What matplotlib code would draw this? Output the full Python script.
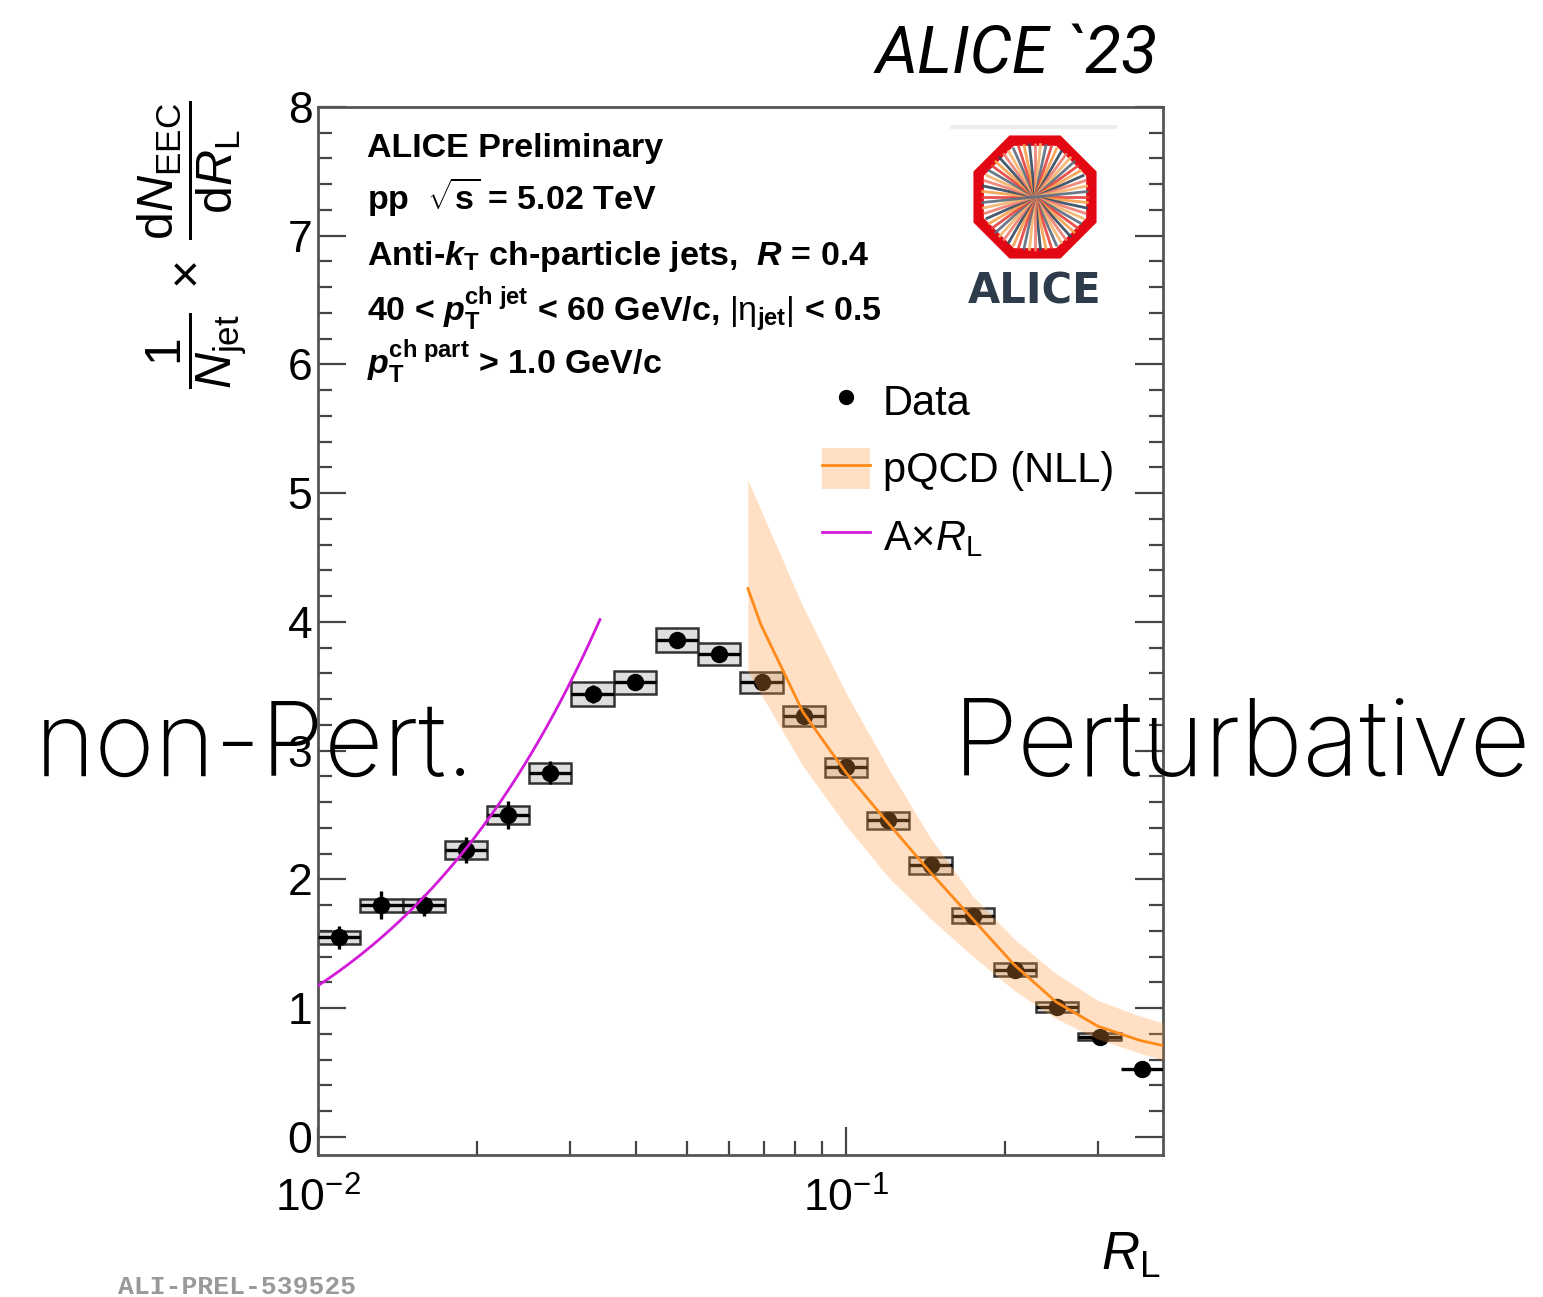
import numpy as np
import matplotlib
matplotlib.use("Agg")
import matplotlib.pyplot as plt
from matplotlib.patches import Rectangle, RegularPolygon, Patch
from matplotlib.lines import Line2D
from matplotlib import font_manager as fm

plt.rcParams['font.family'] = ['Liberation Sans', 'DejaVu Sans']
plt.rcParams['mathtext.fontset'] = 'custom'
plt.rcParams['mathtext.rm'] = 'Liberation Sans'
plt.rcParams['mathtext.it'] = 'Liberation Sans:italic'
plt.rcParams['mathtext.bf'] = 'Liberation Sans:bold'
plt.rcParams['mathtext.bfit'] = 'Liberation Sans:italic:bold'

# ---- data: EEC distribution, pp 5.02 TeV, 40-60 GeV/c charged jets ----
bin_edges = [0.01000, 0.01202, 0.01446, 0.01738, 0.02090, 0.02513, 0.03021,
             0.03632, 0.04367, 0.05251, 0.06313, 0.07590, 0.09126, 0.1097,
             0.1319, 0.1586, 0.1907, 0.2293, 0.2757, 0.3315, 0.3986]
eec = [1.55, 1.80, 1.80, 2.23, 2.50, 2.83, 3.44, 3.53, 3.86, 3.75,
       3.53, 3.27, 2.87, 2.46, 2.11, 1.72, 1.30, 1.01, 0.78, 0.53]
stat_err = [0.09, 0.11, 0.08, 0.10, 0.11, 0.09, 0.07, 0.06, 0.05, 0.05,
            0.04, 0.03, 0.03, 0.03, 0.02, 0.02, 0.02, 0.02, 0.02, 0.02]
sys_err = [0.05, 0.05, 0.05, 0.07, 0.07, 0.077, 0.09, 0.09, 0.095, 0.085,
           0.085, 0.077, 0.074, 0.066, 0.067, 0.056, 0.05, 0.038, 0.03, 0.0]

# pQCD (NLL) prediction: central value and uncertainty band
nll_x = [0.0652, 0.0690, 0.0829, 0.1000, 0.1201, 0.1442, 0.1732, 0.2080,
         0.2498, 0.3001, 0.3604, 0.3986]
nll_mid = [4.26, 3.98, 3.30, 2.83, 2.44, 2.06, 1.70, 1.34, 1.05, 0.86, 0.75, 0.71]
nll_hi = [5.10, 4.87, 4.12, 3.45, 2.87, 2.33, 1.88, 1.54, 1.27, 1.06, 0.94, 0.885]
nll_lo = [3.62, 3.44, 2.88, 2.42, 2.02, 1.70, 1.41, 1.14, 0.92, 0.76, 0.65, 0.60]

# free-streaming hadron scaling A x R_L
lin_A = 117.5
lin_range = [0.0100, 0.0342]

W, H = 1543, 1297
fig = plt.figure(figsize=(W / 100, H / 100), dpi=100)
ax = fig.add_axes([318 / W, 1 - 1155 / H, (1163 - 318) / W, (1155 - 107) / H])

def fx(px):
    return (px - 318) / 845

def fy(py):
    return (1155 - py) / 1048

edges = np.array(bin_edges)
lo_e, hi_e = edges[:-1], edges[1:]
centers = np.sqrt(lo_e * hi_e)
eec_a = np.array(eec)

# systematic boxes
for l, h, v, s in zip(lo_e, hi_e, eec_a, sys_err):
    if s > 0:
        ax.add_patch(Rectangle((l, v - s), h - l, 2 * s, facecolor='#dedede',
                               edgecolor='#333333', lw=1.8, zorder=2))
# statistical errors and points
ax.errorbar(centers, eec_a, yerr=stat_err,
            xerr=[centers - lo_e, hi_e - centers], fmt='none',
            ecolor='black', elinewidth=2.4, capsize=0, zorder=3)
ax.plot(centers, eec_a, 'o', color='black', ms=11.5, zorder=4)

# A x R_L line
xl = np.geomspace(lin_range[0], lin_range[1], 200)
ax.plot(xl, lin_A * xl, color='#d21ad8', lw=2.0, zorder=4)

# NLL band + central line
band_color = '#ff9a3c'
ax.fill_between(nll_x, nll_lo, nll_hi, color=band_color, alpha=0.3, lw=0, zorder=5)
ax.plot(nll_x, nll_mid, color='#ff8a1a', lw=2.0, zorder=6)

ax.set_xscale('log')
ax.set_xlim(0.01, 0.3986)
ax.set_ylim(-0.14, 8.0)
ax.set_yticks(range(0, 9))
ax.set_yticks(np.arange(0, 8.01, 0.2), minor=True)
ax.tick_params(axis='y', which='both', direction='in', left=True, right=True,
               labelsize=32, pad=4, colors='#444444', labelcolor='black')
ax.tick_params(axis='x', which='both', direction='in', top=False, bottom=True,
               labelsize=32, pad=16, colors='#444444', labelcolor='black')
ax.tick_params(which='major', length=20, width=1.6)
ax.tick_params(which='minor', length=10, width=1.6)
ax.tick_params(axis='x', which='minor', labelbottom=False)
for sp in ax.spines.values():
    sp.set_color('#555555')
    sp.set_linewidth(2.0)

# info block
info = [
    ('ALICE Preliminary', 157),
    (r'pp  $\mathbf{\sqrt{s}}$ = 5.02 TeV', 210),
    (r'Anti-$\mathbfit{k}_{\mathbf{T}}$ ch-particle jets,  $\mathbfit{R}$ = 0.4', 265),
    (r'40 < $\mathbfit{p}_{\mathbf{T}}^{\mathbf{ch\ jet}}$ < 60 GeV/c, $|\mathrm{\eta}_{\mathbf{jet}}|$ < 0.5', 320),
    (r'$\mathbfit{p}_{\mathbf{T}}^{\mathbf{ch\ part}}$ > 1.0 GeV/c', 374),
]
for txt, yb in info:
    ax.text(fx(367), fy(yb), txt, transform=ax.transAxes, fontsize=24.5,
            fontweight='bold', va='baseline', ha='left', zorder=10)

# legend
handles = [
    Line2D([], [], marker='o', color='black', ls='none', ms=10),
    (Patch(facecolor=band_color, alpha=0.3, lw=0),
     Line2D([], [], color='#ff8a1a', lw=2.0)),
    Line2D([], [], color='#d21ad8', lw=2.0),
]
labels = ['Data', 'pQCD (NLL)', r'A$\times R_{\mathrm{L}}$']
ax.legend(handles, labels, loc='upper left', bbox_to_anchor=(fx(822), fy(380)),
          frameon=False, fontsize=30, handlelength=1.15, handleheight=1.15,
          handletextpad=0.31, labelspacing=0.57, borderpad=0, borderaxespad=0)

# axis titles
fig.text(192 / W, 1 - 245 / H,
         r'$\dfrac{1}{N_{\mathrm{jet}}}\;\times\;\dfrac{\mathrm{d}N_{\mathrm{EEC}}}{\mathrm{d}R_{\mathrm{L}}}$',
         rotation=90, fontsize=36, ha='center', va='center')
fig.text(1160 / W, 1 - 1270 / H, r'$R_{\mathrm{L}}$', fontsize=38, ha='right',
         va='baseline')

# experiment logo
lg = fig.add_axes([950 / W, 1 - 315 / H, 170 / W, 190 / H])
lg.set_xlim(0, 170)
lg.set_ylim(190, 0)
lg.axis('off')
lg.plot([2, 165], [2, 2], color='#eeeeee', lw=3)
cx, cy, rad = 85, 72, 61
ray_colors = ['#e8413c', '#f5a04a', '#34495e', '#f07b6e', '#f4b36a', '#5b6b7c']
n_rays = 30
for i in range(n_rays):
    a = np.pi * i / n_rays
    dx, dy = 54 * np.cos(a), 54 * np.sin(a)
    lg.plot([cx - dx, cx + dx], [cy - dy, cy + dy],
            color=ray_colors[i % len(ray_colors)], lw=2.0, alpha=0.9,
            solid_capstyle='butt')
lg.add_patch(RegularPolygon((cx, cy), 8, radius=rad, orientation=np.pi / 8,
                            facecolor='none', edgecolor='#e30613', lw=7.5))
lg.text(cx, 178, 'ALICE', fontsize=30, fontweight='bold', color='#2e3b4a',
        ha='center', va='baseline', family='DejaVu Sans')


def light_font():
    for f in fm.fontManager.ttflist:
        if f.name in ('Lato', 'Open Sans', 'Noto Sans', 'Inter', 'Roboto') \
                and isinstance(f.weight, int) and f.weight <= 300 and f.style == 'normal':
            return fm.FontProperties(fname=f.fname)
    return fm.FontProperties(family='Lato')


lf = light_font()
fig.text(35 / W, 1 - 775 / H, 'non-Pert.', fontproperties=lf, fontsize=74,
         ha='left', va='baseline')
fig.text(953 / W, 1 - 775 / H, 'Perturbative', fontproperties=lf, fontsize=76,
         ha='left', va='baseline')

fig.text(1158 / W, 1 - 73 / H, 'ALICE `23', family=['Roboto', 'Liberation Sans'],
         style='italic', fontsize=48, ha='right', va='baseline')

fig.text(118 / W, 1 - 1294 / H, 'ALI-PREL-539525', family='Liberation Mono',
         fontweight='bold', color='#999999', fontsize=19, ha='left', va='baseline')

fig.savefig('out.png', dpi=100)
